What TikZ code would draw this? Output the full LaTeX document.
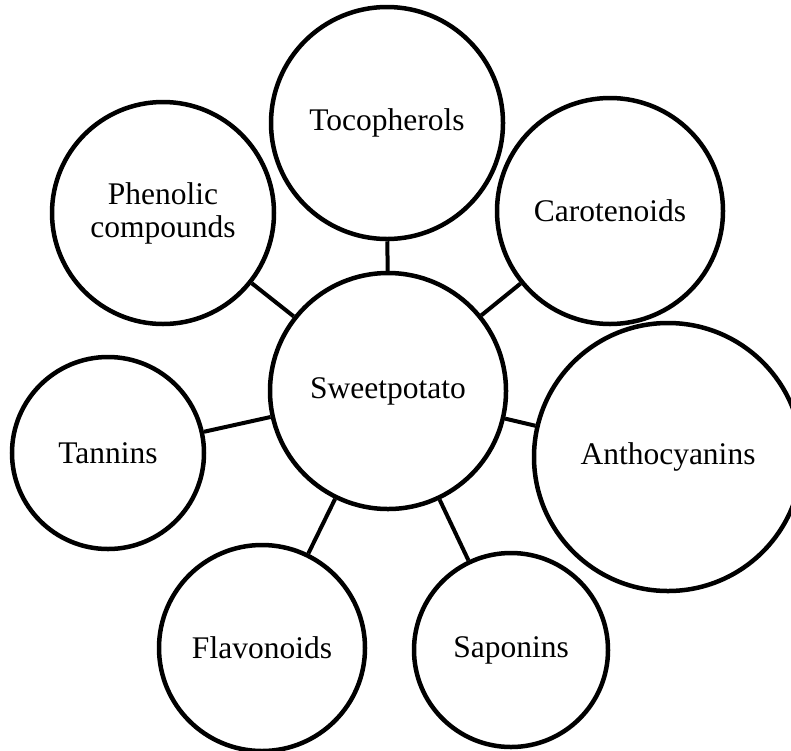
\documentclass[tikz,border=0pt]{standalone}
\usepackage{fontspec}
\setmainfont{Liberation Serif}

\tikzset{
  bubble/.style={draw,circle,line width=4.5pt,fill=white,inner sep=0pt,
    align=center,font=\fontsize{31.5}{33}\selectfont},
  spoke/.style={line width=4pt}
}

\begin{document}
\begin{tikzpicture}[x=1pt,y=-1pt]

\clip (0,0) rectangle (791,750);
\fill[white] (0,0) rectangle (791,750);

\node[bubble,minimum size=236pt] (sp)    at (388,391) {Sweetpotato};
\node[bubble,minimum size=232pt] (toco)  at (387,123) {Tocopherols};
\node[bubble,minimum size=226pt] (caro)  at (610,211) {Carotenoids};
\node[bubble,minimum size=222pt] (phen)  at (163,213) {Phenolic\\compounds};
\node[bubble,minimum size=268pt] (antho) at (668,457) {Anthocyanins};
\node[bubble,minimum size=192pt] (tann)  at (108,453) {Tannins};
\node[bubble,minimum size=206pt] (flav)  at (262,648) {Flavonoids};
\node[bubble,minimum size=194pt] (sapo)  at (511,650) {Saponins};

\foreach \n in {toco,caro,phen,antho,tann,flav,sapo} {
  \draw[spoke] (sp) -- (\n);
}

\end{tikzpicture}
\end{document}
